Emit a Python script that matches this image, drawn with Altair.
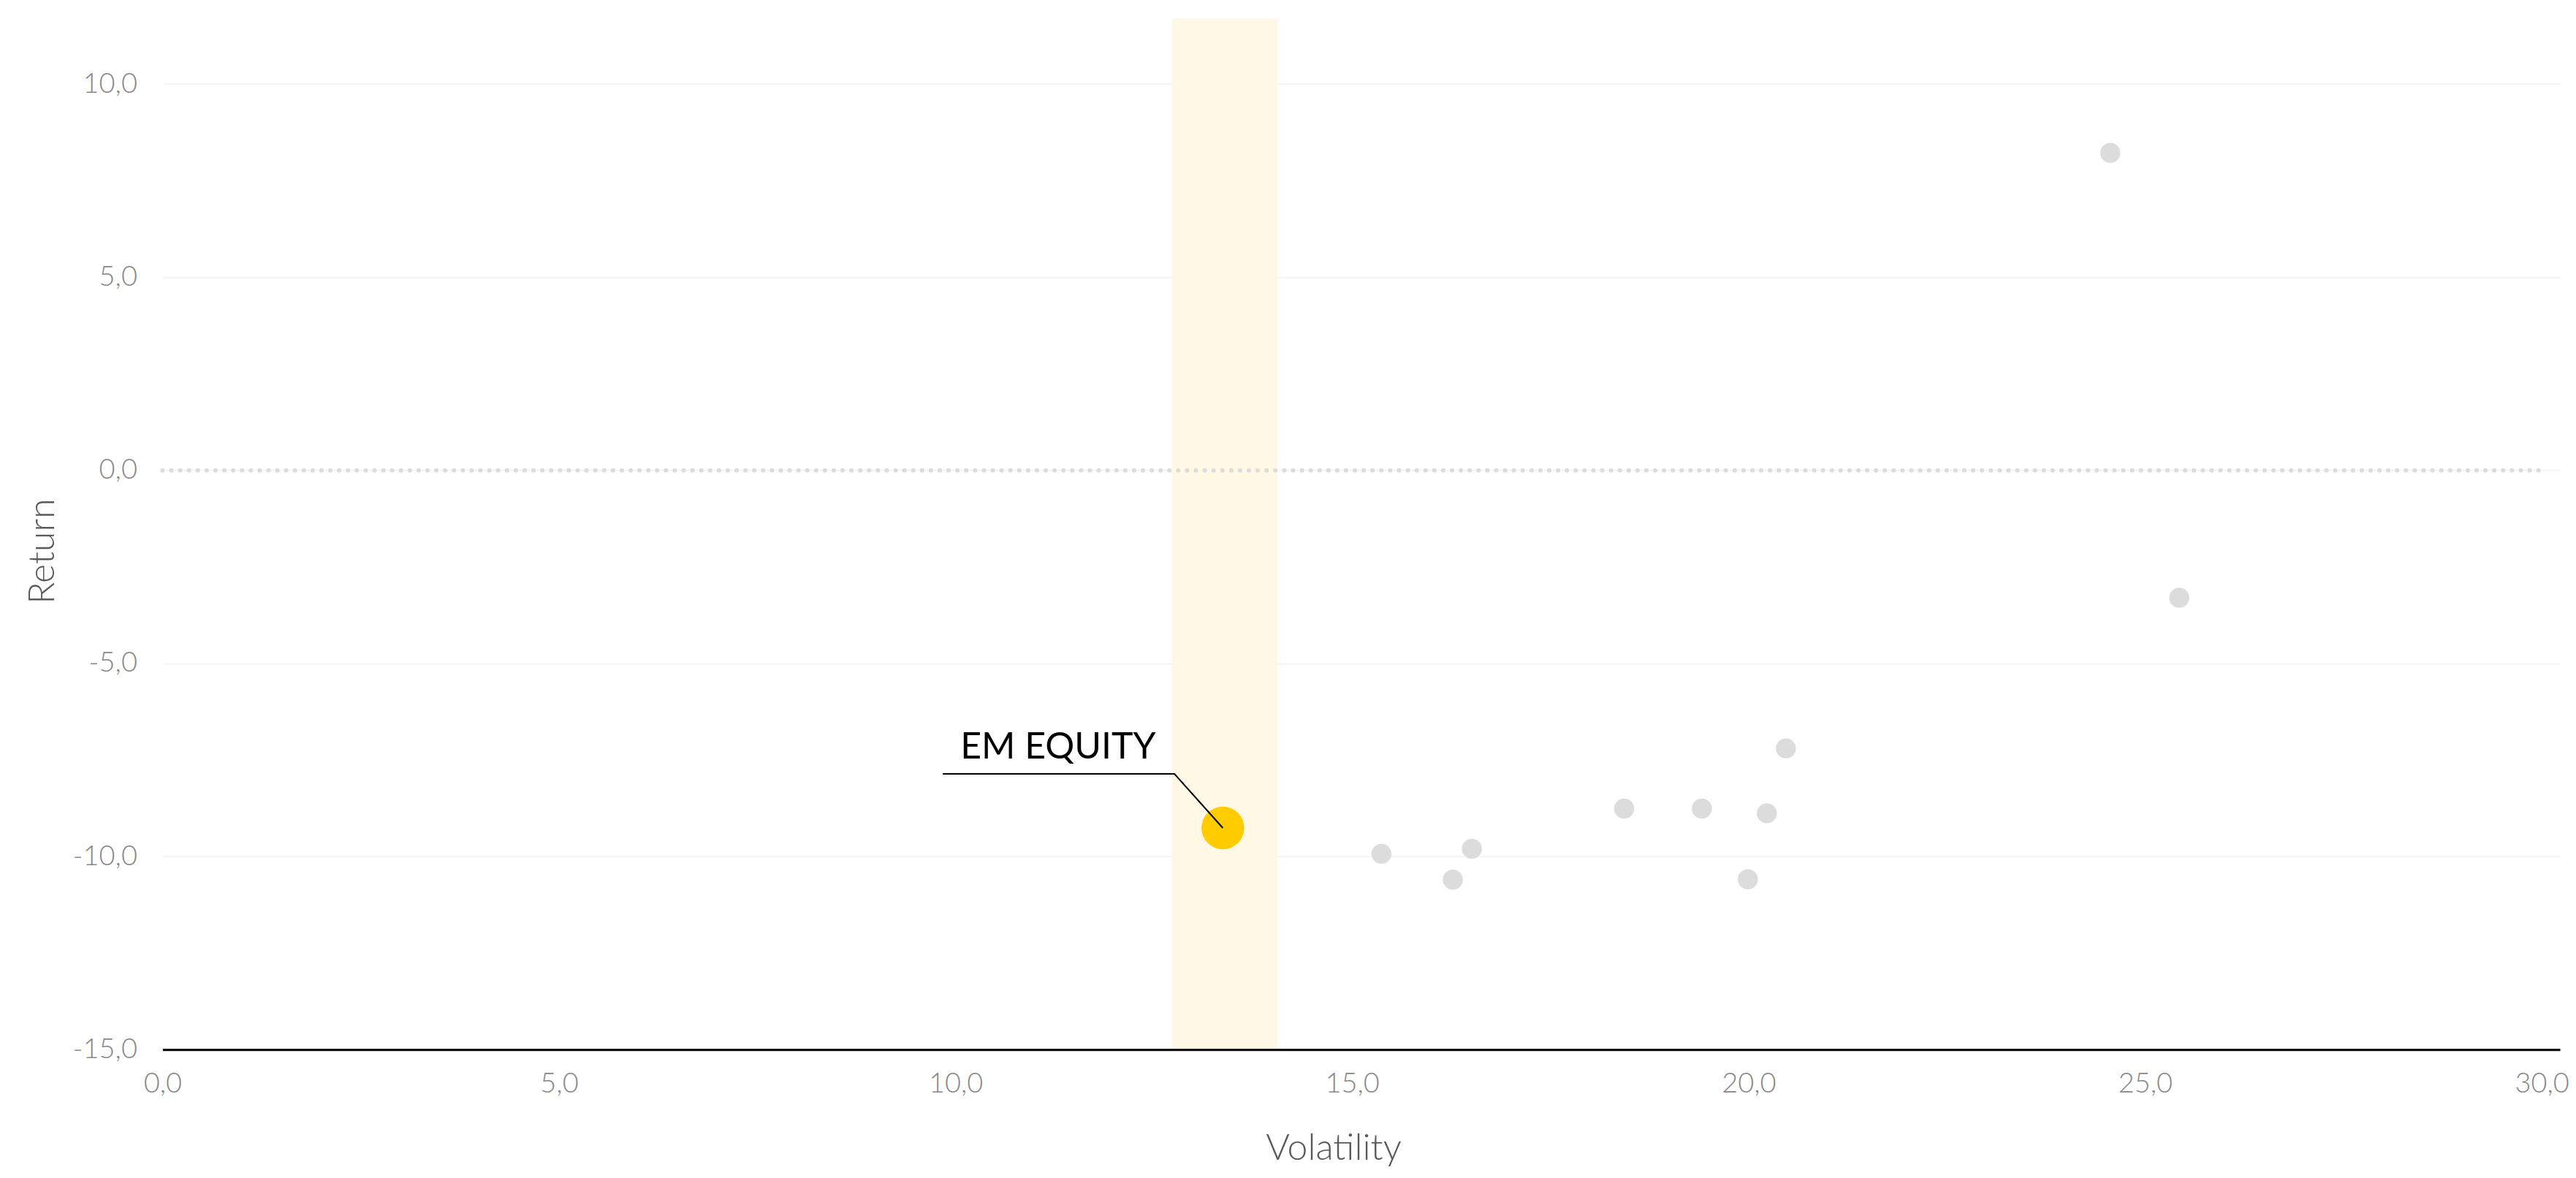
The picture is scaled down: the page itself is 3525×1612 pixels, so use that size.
import altair as alt
import pandas as pd

# ---- data ----
em_name = ["EM EQUITY"]
em_vol = [13.37]
em_ret = [-9.26]

other_vol = [15.37, 16.27, 16.51, 18.43, 19.41, 20.23, 19.99, 20.47, 24.56, 25.43]
other_ret = [-9.93, -10.60, -9.80, -8.76, -8.76, -8.88, -10.59, -7.20, 8.22, -3.30]

band_lo = [12.73]
band_hi = [14.06]

x_ticks = [0, 5, 10, 15, 20, 25, 30]
y_ticks = [-15, -10, -5, 0, 5, 10]
x_domain = [0, 30.23]
y_domain = [-15, 11.71]

zero_from = [0]
zero_to = [30]
zero_y = [0]

# annotation leader line (data units)
lead_vol = [13.37, 12.76, 9.84]
lead_ret = [-9.26, -7.86, -7.86]

# ---- tables ----
band_df = pd.DataFrame({"lo": band_lo, "hi": band_hi, "ylo": [y_domain[0]], "yhi": [y_domain[1]]})
zero_df = pd.DataFrame({"x0": zero_from, "x1": zero_to, "y": zero_y})
other_df = pd.DataFrame({"vol": other_vol, "ret": other_ret})
em_df = pd.DataFrame({"name": em_name, "vol": em_vol, "ret": em_ret})
lead_df = pd.DataFrame({"vol": lead_vol, "ret": lead_ret, "i": list(range(len(lead_vol)))})
label_df = pd.DataFrame({"name": em_name, "vol": [lead_vol[-1]], "ret": [lead_ret[-1]]})

FONT = "Lato"
label_expr = "(datum.value < 0 ? '-' : '') + replace(format(abs(datum.value), '.1f'), '.', ',')"

xs = alt.Scale(domain=x_domain, nice=False, zero=False)
ys = alt.Scale(domain=y_domain, nice=False, zero=False)

x_axis = alt.Axis(
    values=x_ticks, labelExpr=label_expr, ticks=False, grid=False,
    domainColor="black", domainWidth=3, labelFlush=False,
    labelFont=FONT, labelFontSize=38, labelFontWeight=300, labelColor="#888888",
    labelPadding=28,
    title="Volatility", titleFont=FONT, titleFontSize=50, titleFontWeight=300,
    titleColor="#5a5a5a", titleX=1604, titleY=150, titleBaseline="alphabetic",
    titleAlign="center", zindex=1,
)
y_axis = alt.Axis(
    values=y_ticks, labelExpr=label_expr, ticks=False, domain=False,
    grid=True, gridColor="#f2f2f2", gridWidth=1.5,
    labelFont=FONT, labelFontSize=38, labelFontWeight=300, labelColor="#888888",
    labelPadding=35,
    title="Return", titleFont=FONT, titleFontSize=50, titleFontWeight=300,
    titleColor="#5a5a5a", titleAngle=270, titleX=-149, titleY=730,
    titleBaseline="alphabetic", titleAlign="center",
)


def X(field):
    return alt.X(field, scale=xs, axis=x_axis)


def Y(field):
    return alt.Y(field, scale=ys, axis=y_axis)


band = alt.Chart(band_df).mark_rect(color="#FFF8E5").encode(
    x=X("lo:Q"), x2="hi:Q", y=Y("ylo:Q"), y2="yhi:Q",
)

zero = alt.Chart(zero_df).mark_rule(
    color="#dcdcdc", strokeWidth=6, strokeDash=[0.1, 12], strokeCap="round"
).encode(x=X("x0:Q"), x2="x1:Q", y=Y("y:Q"))

others = alt.Chart(other_df).mark_circle(size=755, color="#dcdcdc", opacity=1).encode(
    x=X("vol:Q"), y=Y("ret:Q"),
)

em = alt.Chart(em_df).mark_circle(size=3420, color="#FFCC00", opacity=1).encode(
    x=X("vol:Q"), y=Y("ret:Q"),
)

lead = alt.Chart(lead_df).mark_line(color="black", strokeWidth=2).encode(
    x=X("vol:Q"), y=Y("ret:Q"), order="i:Q",
)

label = alt.Chart(label_df).mark_text(
    align="left", baseline="alphabetic", dx=24, dy=-21,
    font=FONT, fontSize=50, color="black",
).encode(x=X("vol:Q"), y=Y("ret:Q"), text="name:N")

chart = alt.layer(band, zero, others, em, lead, label).properties(
    width=3284.4,
    height=1413,
    background="white",
    autosize=alt.AutoSizeParams(type="none"),
    padding={"left": 214.6, "top": 16, "right": 14, "bottom": 160},
).configure_view(stroke=None)

chart.save("out.html", embed_options={"renderer": "svg", "actions": False})
